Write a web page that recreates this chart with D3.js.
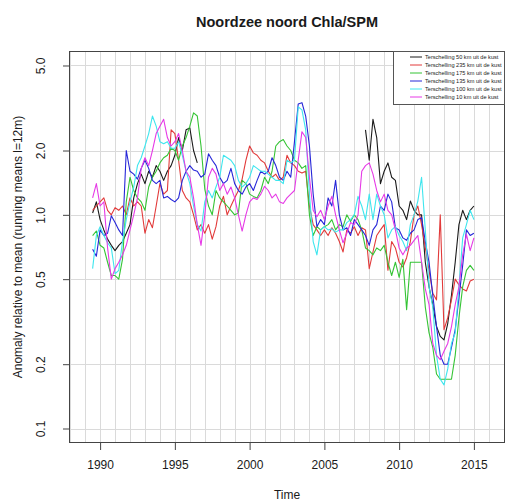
<!DOCTYPE html>
<html>
<head>
<meta charset="utf-8">
<script src="https://cdn.jsdelivr.net/npm/d3@7"></script>
<style>
    body { margin: 0; background: #fff; }
    text { font-family: "Liberation Sans", Arial, sans-serif; fill: #1a1a1a; }
</style>
</head>
<body>
<div id="container"></div>
<script>
// Noordzee noord Chla/SPM - running means (l=12m), quarterly readings from 1989.5 on

const startYear = 1989.5
const stepYear = 0.25

const stations = [
    "Terschelling 50 km uit de kust",
    "Terschelling 235 km uit de kust",
    "Terschelling 175 km uit de kust",
    "Terschelling 135 km uit de kust",
    "Terschelling 100 km uit de kust",
    "Terschelling 10 km uit de kust",
]

// one row per year (1989 has two quarters, 2015 one)
const km50 = [
    1.02, 1.15,
    0.95, 0.85, 0.77, 0.72,
    0.68, 0.72, 0.75, 0.82,
    0.9, 1.2, 1.4, 1.55,
    1.4, 1.6, 1.5, 1.7,
    1.6, 1.45, 1.6, 1.7,
    1.9, 2.3, 2.0, 2.5,
    2.55, 2.0, 1.75, null,
    null, null, null, null, // 1997
    null, null, null, null,
    null, null, null, null,
    null, null, null, null, // 2000
    null, null, null, null,
    null, null, null, null,
    null, null, null, null,
    null, null, null, null,
    null, null, null, null, // 2005
    null, null, null, null,
    null, null, null, 2.5,  // 2007
    1.8, 2.8, 2.3, 1.4,
    1.6, 1.75, 1.5, 1.45,
    1.1, 1.05, 0.95, 1.16,
    1.05, 1.0, 1.0, 0.6,
    0.46, 0.38, 0.3, 0.27,
    0.26, 0.31, 0.42, 0.6,
    0.9, 1.05, 0.95, 1.05,
    1.1
]

const km235 = [
    1.05, 1.1,
    1.15, 1.2, 1.05, 1.0,
    1.08, 1.05, 1.1, 1.0,
    1.2, 1.1, 1.15, 1.1,
    0.82, 0.95, 0.87, 1.1,
    1.4, 1.25, 1.3, 2.5,
    2.4, 1.8, 1.3, 1.2,
    1.15, 1.0, 0.85, 0.9,
    0.82, 0.9, 0.77, 0.88,
    1.1, 1.22, 1.0, 1.1,
    1.2, 1.3, 1.47, 1.8,
    2.1, 1.95, 1.9, 1.8,
    1.75, 1.6, 1.5, 1.55,
    1.45, 1.5, 1.9, 1.75,
    1.7, 1.6, 1.57, 1.6,
    1.1, 0.9, 0.85, 0.8,
    0.85, 0.8, 0.87, 0.82,
    0.75, 0.67, 0.85, 0.82,
    0.88, 0.8, 0.87, 0.85,
    0.56, 0.67, 0.8, 0.85,
    0.9, 0.55, 0.75, 0.7,
    0.6, 0.57, 0.63, 0.75,
    1.0, 1.1, 0.9, 0.7,
    0.55, 0.43, 0.4, 1.0,
    0.29, 0.33, 0.4, 0.5,
    0.47, 0.45, 0.44, 0.49,
    0.5
]

const km175 = [
    0.8, 0.84,
    0.72, 0.7, 0.6, 0.52,
    0.52, 0.5, 0.62, 1.15,
    1.5, 1.3, 1.2, 1.15,
    1.05, 1.35, 1.5, 1.6,
    1.75, 1.85, 1.9, 2.05,
    2.0, 1.8, 2.1, 2.3,
    2.6, 3.0, 2.9, 2.1,
    1.32, 1.1, 1.0, 1.3,
    1.2, 1.15, 1.1, 1.05,
    1.0, 1.02, 1.45, 1.4,
    1.25, 1.22, 1.2, 1.3,
    1.5, 1.4, 1.6, 2.1,
    2.2, 2.25, 2.1, 2.0,
    1.8, 1.75, 1.65, 1.7,
    1.0, 0.8, 0.88, 0.85,
    0.88, 0.9, 0.95, 0.85,
    0.9, 0.88, 1.0, 0.93,
    1.0, 0.95, 0.85, 0.7,
    0.68, 0.65, 0.7, 0.68,
    0.72, 0.6, 0.52, 0.6,
    0.51, 0.62, 0.36, 0.6,
    0.6, 0.6, 0.6, 0.37,
    0.28, 0.24, 0.18, 0.17,
    0.17, 0.17, 0.17, 0.22,
    0.33, 0.46, 0.55, 0.58,
    0.55
]

const km135 = [
    0.69, 0.64,
    0.85, 0.8, 0.82, 0.99,
    0.92, 0.85, 0.8, 2.0,
    1.6, 1.55, 1.47, 1.65,
    1.8, 1.65, 1.45, 1.4,
    1.45, 1.2, 1.22, 1.18,
    1.15, 1.2, 1.45, 1.6,
    1.7, 1.62, 1.6, 1.5,
    1.55, 1.93, 1.8, 1.7,
    1.5, 1.4, 1.45, 1.65,
    1.4, 1.3, 1.25, 1.35,
    1.4, 1.3, 1.45, 1.6,
    1.55, 1.6, 1.85, 1.7,
    1.5, 1.45, 1.6, 1.5,
    2.2, 3.3, 3.35, 2.9,
    2.1, 1.25, 0.88, 0.95,
    0.9, 1.2, 1.1, 1.45,
    1.0, 0.85, 0.87, 0.8,
    0.95, 0.9, 0.85, 0.8,
    0.72, 0.85, 0.9, 1.1,
    1.05, 1.25, 1.15, 0.87,
    0.85, 0.78, 0.76, 0.82,
    0.85, 0.95, 0.97, 0.75,
    0.6, 0.42, 0.3, 0.22,
    0.2, 0.2, 0.24, 0.29,
    0.41, 0.58, 0.85, 0.8,
    0.82
]

const km100 = [
    0.56, 0.8,
    0.88, 0.8, 0.74, 0.7,
    0.53, 0.55, 0.75, 0.95,
    1.15, 1.35, 1.7, 1.85,
    2.1, 2.4, 2.9, 2.6,
    2.2, 2.15, 2.2, 2.05,
    2.05, 2.2, 1.9, 1.6,
    1.4, 1.1, 0.9, 0.84,
    1.15, 1.3, 1.2, 1.35,
    1.5, 1.9, 1.85, 1.8,
    1.7, 1.45, 1.35, 1.4,
    1.5, 1.7, 1.65, 1.6,
    1.6, 1.55, 1.5, 1.45,
    1.45, 1.4, 1.8, 1.75,
    1.8, 3.2, 3.1, 2.5,
    1.25, 0.75, 0.65, 0.85,
    0.88, 0.85, 0.86, 0.83,
    0.85, 0.85, 0.92, 0.95,
    1.0, 1.22, 1.1, 0.95,
    1.25, 0.95, 1.25, 1.1,
    1.0, 0.78, 0.85, 0.88,
    0.8, 0.75, 0.68, 0.9,
    1.0, 1.16, 1.5, 0.85,
    0.46, 0.37, 0.22, 0.17,
    0.16, 0.19, 0.25, 0.28,
    0.46, 0.78, 0.9, 1.05,
    0.95
]

const km10 = [
    1.2, 1.4,
    1.1, 1.15, 0.7, 0.5,
    0.56, 0.6, 0.65, 0.72,
    0.85, 1.0, 1.2, 1.65,
    1.85, 1.7, 2.0, 2.4,
    2.6, 2.8, 2.3, 2.1,
    2.2, 2.4, 2.0, 1.6,
    1.5, 1.2, 0.9, 0.72,
    1.0, 1.5, 1.65, 1.55,
    1.3, 1.4, 1.25, 1.35,
    1.2, 1.0, 0.84, 1.0,
    1.15, 1.2, 1.18, 1.25,
    1.36, 1.3, 1.2, 1.25,
    1.15, 1.13, 1.2, 1.25,
    1.3, 1.8, 2.45, 2.3,
    1.5, 1.05, 0.98, 1.05,
    0.95, 1.1, 1.22, 1.0,
    0.85, 0.74, 0.82, 0.92,
    0.9, 1.0, 1.6, 1.7,
    1.75, 1.55, 1.3, 1.15,
    1.25, 1.05, 1.0, 0.85,
    0.7, 0.65, 0.7, 0.72,
    0.76, 0.8, 0.6, 0.45,
    0.38, 0.25, 0.22, 0.21,
    0.23, 0.25, 0.3, 0.38,
    0.46, 0.65, 0.81, 0.68,
    0.78
]

const xTicks = [1990, 1995, 2000, 2005, 2010, 2015]
const yTicks = [0.1, 0.2, 0.5, 1.0, 2.0, 5.0]
const gridYears = d3.range(1988, 2018)

const allSeries = [km50, km235, km175, km135, km100, km10]
const colors = ["#1a1a1a", "#e23a3a", "#35c435", "#2626d8", "#3ee6ee", "#e63ae6"]

const width = 506,
    height = 502
let padding = {
    top: 51,
    right: 1,
    bottom: 59,
    left: 69,
}

const svg = d3.select("#container")
    .append("svg")
    .attr("width", width)
    .attr("height", height)
    .style("background", "#fff")

// R style: axis range padded 4% on each side
const xScale = d3.scaleLinear()
    .domain([1987.92, 2017.08])
    .range([padding.left, width - padding.right])

const yScale = d3.scaleLog()
    .domain([0.1 / 1.169, 5 * 1.169])
    .range([height - padding.bottom, padding.top])

svg.append("clipPath").attr("id", "plotclip")
    .append("rect")
    .attr("x", padding.left)
    .attr("y", padding.top)
    .attr("width", width - padding.left - padding.right)
    .attr("height", height - padding.top - padding.bottom)

// grid
const grid = svg.append("g").attr("clip-path", "url(#plotclip)")
    .attr("stroke", "#dadada")
    .attr("stroke-width", 1)
grid.selectAll(".vgrid")
    .data(gridYears)
    .enter()
    .append("line")
    .attr("x1", d => Math.round(xScale(d)) + 0.5)
    .attr("x2", d => Math.round(xScale(d)) + 0.5)
    .attr("y1", padding.top)
    .attr("y2", height - padding.bottom)
grid.selectAll(".hgrid")
    .data(yTicks)
    .enter()
    .append("line")
    .attr("x1", padding.left)
    .attr("x2", width - padding.right)
    .attr("y1", d => Math.round(yScale(d)) + 0.5)
    .attr("y2", d => Math.round(yScale(d)) + 0.5)

// series
const line = d3.line()
    .defined(d => d.v != null)
    .x(d => xScale(d.t))
    .y(d => yScale(d.v))

const lines = svg.append("g").attr("clip-path", "url(#plotclip)")
allSeries.forEach((values, i) => {
    let pts = values.map((v, j) => ({ t: startYear + j * stepYear, v: v }))
    lines.append("path")
        .datum(pts)
        .attr("fill", "none")
        .attr("stroke", colors[i])
        .attr("stroke-width", 1.1)
        .attr("stroke-linejoin", "round")
        .attr("d", line)
})

// box
svg.append("rect")
    .attr("x", padding.left + 0.5)
    .attr("y", padding.top + 0.5)
    .attr("width", width - padding.left - padding.right - 1)
    .attr("height", height - padding.top - padding.bottom - 1)
    .attr("fill", "none")
    .attr("stroke", "#444")

// axes
const xAxis = d3.axisBottom(xScale)
    .tickValues(xTicks)
    .tickSize(7)
    .tickPadding(10)
    .tickFormat(d3.format("d"))

const xg = svg.append("g").attr("id", "x-axis")
    .attr("transform", `translate(0,${height - padding.bottom})`)
    .call(xAxis)
xg.select(".domain").remove()
xg.selectAll(".tick line").attr("stroke", "#444")
xg.selectAll(".tick text")
    .attr("font-size", "12px")
    .attr("fill", "#1a1a1a")

const yAxis = d3.axisLeft(yScale)
    .tickValues(yTicks)
    .tickSize(6)
    .tickFormat(d3.format(".1f"))

const yg = svg.append("g").attr("id", "y-axis")
    .attr("transform", `translate(${padding.left},0)`)
    .call(yAxis)
yg.select(".domain").remove()
yg.selectAll(".tick line").attr("stroke", "#444")
yg.selectAll(".tick text")
    .attr("transform", "rotate(-90)")
    .attr("x", 0)
    .attr("y", -24)
    .attr("dy", 0)
    .attr("text-anchor", "middle")
    .attr("font-size", "12px")
    .attr("fill", "#1a1a1a")

// titles
svg.append("text")
    .attr("x", (padding.left + width - padding.right) / 2)
    .attr("y", 27)
    .attr("text-anchor", "middle")
    .attr("font-size", "14.5px")
    .attr("font-weight", "bold")
    .text("Noordzee noord Chla/SPM")

svg.append("text")
    .attr("x", (padding.left + width - padding.right) / 2)
    .attr("y", 499)
    .attr("text-anchor", "middle")
    .attr("font-size", "12px")
    .text("Time")

svg.append("text")
    .attr("transform", `translate(22,${(padding.top + height - padding.bottom) / 2}) rotate(-90)`)
    .attr("text-anchor", "middle")
    .attr("font-size", "12px")
    .text("Anomaly relative to mean (running means l=12m)")

// legend, top right corner of the box
const legend = svg.append("g").attr("id", "legend")
    .attr("transform", `translate(393,${padding.top})`)
legend.append("rect")
    .attr("x", 0.5)
    .attr("y", 0.5)
    .attr("width", width - padding.right - 393 - 1)
    .attr("height", 53)
    .attr("fill", "#fff")
    .attr("stroke", "#555")
const entry = legend.selectAll(".entry")
    .data(stations)
    .enter()
    .append("g")
    .attr("transform", (d, i) => `translate(0,${6 + i * 8})`)
entry.append("line")
    .attr("x1", 17)
    .attr("x2", 29)
    .attr("stroke", (d, i) => colors[i])
    .attr("stroke-width", 1)
entry.append("text")
    .attr("x", 32)
    .attr("dy", "0.35em")
    .attr("font-size", "5.6px")
    .text(d => d)
</script>
</body>
</html>
